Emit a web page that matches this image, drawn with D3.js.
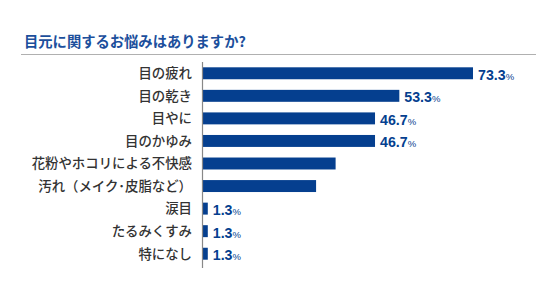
<!DOCTYPE html>
<html>
<head>
<meta charset="utf-8">
<script src="https://cdn.jsdelivr.net/npm/d3@7"></script>
<style>
  body { margin: 0; background: #fff; }
</style>
</head>
<body>
<div id="chart"></div>
<script>
const title = "目元に関するお悩みはありますか?";
const categories = ["目の疲れ", "目の乾き", "目やに", "目のかゆみ", "花粉やホコリによる不快感",
  "汚れ（メイク･皮脂など）", "涙目", "たるみくすみ", "特になし"];
const values = [73.3, 53.3, 46.7, 46.7, 36.0, 30.7, 1.3, 1.3, 1.3];
const valueLabels = ["73.3", "53.3", "46.7", "46.7", null, null, "1.3", "1.3", "1.3"];

const width = 536;
const height = 291;
const jp = "'Noto Sans CJK JP', 'Noto Sans', sans-serif";
const blue = "#053f8f";

const svg = d3.select("#chart")
  .append("svg")
  .attr("width", width)
  .attr("height", height);

// title + rule
svg.append("text")
  .attr("x", 24)
  .attr("y", 47)
  .attr("font-family", jp)
  .attr("font-weight", "bold")
  .attr("font-size", 14.3)
  .attr("fill", "#1c4f9c")
  .text(title);

svg.append("line")
  .attr("x1", 21).attr("x2", width)
  .attr("y1", 54.5).attr("y2", 54.5)
  .attr("stroke", "#b0b0b0")
  .attr("stroke-width", 1.2);

const x = d3.scaleLinear()
  .domain([0, 73.3])
  .range([203, 473]);

const y = d3.scaleBand()
  .domain(categories)
  .range([62, 265])
  .paddingInner(0.47)
  .paddingOuter(0.235);

svg.append("g")
  .selectAll("rect")
  .data(values)
  .join("rect")
  .attr("x", x(0))
  .attr("y", (d, i) => y(categories[i]))
  .attr("width", d => x(d) - x(0))
  .attr("height", y.bandwidth())
  .attr("fill", blue);

// category labels
svg.append("g")
  .selectAll("text")
  .data(categories)
  .join("text")
  .attr("x", 192)
  .attr("y", d => y(d) + y.bandwidth() / 2)
  .attr("dy", "0.36em")
  .attr("text-anchor", "end")
  .attr("font-family", jp)
  .attr("font-weight", 500)
  .attr("font-size", 13.4)
  .attr("fill", "#333")
  .text(d => d);

// axis line
svg.append("line")
  .attr("x1", x(0) - 0.5).attr("x2", x(0) - 0.5)
  .attr("y1", 62).attr("y2", 268)
  .attr("stroke", "#888")
  .attr("stroke-width", 1.2);

// value labels
const vl = svg.append("g")
  .selectAll("text")
  .data(values.map((v, i) => ({ v, label: valueLabels[i], cat: categories[i] })).filter(d => d.label))
  .join("text")
  .attr("x", d => x(d.v) + 5)
  .attr("y", d => y(d.cat) + y.bandwidth() / 2)
  .attr("dy", "0.4em")
  .attr("font-family", "'Liberation Sans', Arial, sans-serif")
  .attr("font-weight", "bold")
  .attr("fill", blue);

vl.append("tspan")
  .attr("font-size", 14.2)
  .text(d => d.label);
vl.append("tspan")
  .attr("font-size", 9.5)
  .attr("font-weight", "normal")
  .text("%");
</script>
</body>
</html>
